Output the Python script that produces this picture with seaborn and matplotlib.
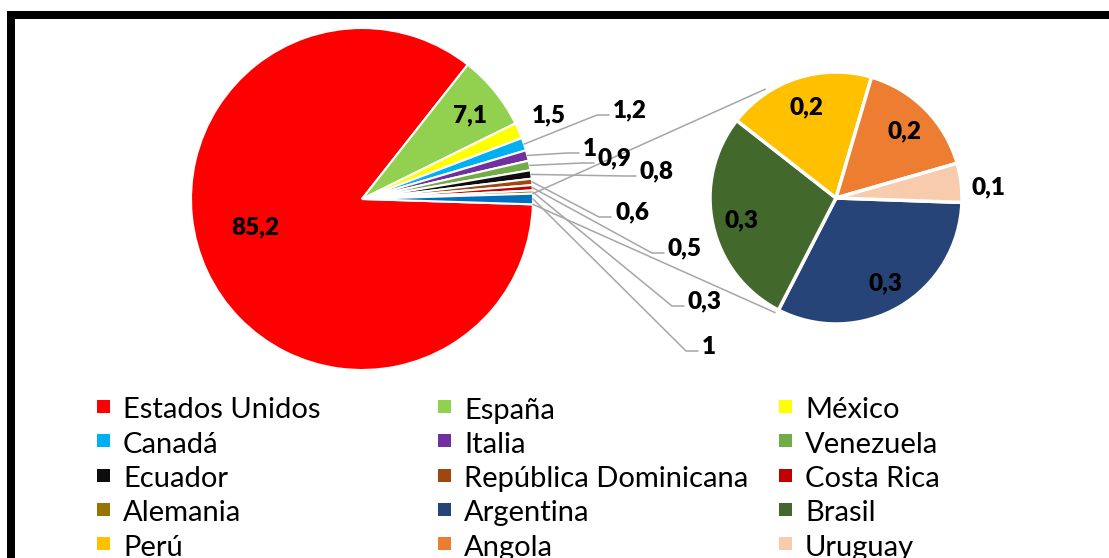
import matplotlib
matplotlib.use("Agg")
import numpy as np
import seaborn as sns
import matplotlib.pyplot as plt
from matplotlib.patches import Rectangle

# --- 1. Data ---
main_countries = ["Estados Unidos", "España", "México", "Canadá", "Italia", "Venezuela",
                  "Ecuador", "República Dominicana", "Costa Rica", "Alemania"]
main_values = [85.2, 7.1, 1.5, 1.2, 1, 0.9, 0.8, 0.6, 0.5, 0.3]
main_colors = ["#FF0000", "#92D050", "#FFFF00", "#00B0F0", "#7030A0", "#70AD47",
               "#0D0D0D", "#9E480E", "#C00000", "#997300"]

other_countries = ["Argentina", "Brasil", "Perú", "Angola", "Uruguay"]
other_values = [0.32, 0.28, 0.19, 0.16, 0.05]
other_colors = ["#264478", "#43682B", "#FFC000", "#ED7D31", "#F8CBAD"]
other_slice_color = "#0070C0"


def fmt(v):
    return f"{v:.1f}".rstrip("0").rstrip(".").replace(".", ",")


# --- 2. Figure in pixel coordinates ---
W, H = 1109, 558
sns.set_style("white")
plt.rcParams["font.family"] = ["Lato", "DejaVu Sans"]
fig = plt.figure(figsize=(W / 100, H / 100), dpi=100)
ax = fig.add_axes([0, 0, 1, 1])

LABEL_SIZE = 17.5
LEGEND_SIZE = 21
GREY = "#A6A6A6"


def put(x, yc, s, size, ha="center", weight="heavy"):
    # yc is the visual middle of the digits / capitals (pixels from top)
    base = yc + 0.36 * size * 100 / 72
    ax.text(x, H - base, s, fontsize=size, ha=ha, va="baseline", fontweight=weight, color="black")


# --- 3. Main pie ---
main_all = main_values + [sum(other_values)]
main_cx, main_cy, main_r = 362, H - 199, 171
wedges, _ = ax.pie(main_all, colors=main_colors + [other_slice_color],
                   startangle=-180 * main_all[-1] / sum(main_all), counterclock=False,
                   radius=main_r, center=(main_cx, main_cy),
                   wedgeprops=dict(edgecolor="white", linewidth=1.5))

# inside labels (centre, px from top-left)
put(255, 226, fmt(main_values[0]), LABEL_SIZE)
put(470, 114, fmt(main_values[1]), LABEL_SIZE)
put(532, 114, fmt(main_values[2]), LABEL_SIZE, ha="left")

# outside labels with leader lines: (left x, middle y) in px
leader_pos = [(613, 109), (583, 147), (598, 157), (640, 170), (615, 211),
              (668, 247), (688, 300), (702, 345)]
for w, v, (lx, ly) in zip(wedges[3:], main_all[3:], leader_pos):
    mid = np.deg2rad((w.theta1 + w.theta2) / 2)
    sx, sy = main_cx + main_r * np.cos(mid), main_cy + main_r * np.sin(mid)
    ex, ey = lx - 4, H - (ly + 6)
    ax.plot([sx, ex - 12, ex], [sy, ey, ey], color=GREY, lw=1.1, zorder=1)
    put(lx, ly, fmt(v), LABEL_SIZE, ha="left")

# --- 4. Secondary pie ---
sec_cx, sec_cy, sec_r = 836, H - 198, 126
sec_wedges, _ = ax.pie(other_values, colors=other_colors, startangle=-2, counterclock=False,
                       radius=sec_r, center=(sec_cx, sec_cy),
                       wedgeprops=dict(edgecolor="white", linewidth=2.5))
for w, v in zip(sec_wedges[:-1], other_values[:-1]):
    mid = np.deg2rad((w.theta1 + w.theta2) / 2)
    x = sec_cx + 0.77 * sec_r * np.cos(mid)
    y = H - (sec_cy + 0.77 * sec_r * np.sin(mid))
    put(x, y, fmt(v), LABEL_SIZE)
put(988, 186, fmt(other_values[-1]), LABEL_SIZE)

# connector lines between the "other" slice and the secondary pie
ow = wedges[-1]
for a_main, a_sec in [(ow.theta2, 123), (ow.theta1, 242)]:
    a1, a2 = np.deg2rad(a_main), np.deg2rad(a_sec)
    ax.plot([main_cx + main_r * np.cos(a1), sec_cx + 1.03 * sec_r * np.cos(a2)],
            [main_cy + main_r * np.sin(a1), sec_cy + 1.03 * sec_r * np.sin(a2)],
            color=GREY, lw=1.1, zorder=1)

# --- 5. Legend (3 columns, row-wise like Excel) ---
legend_names = main_countries + other_countries
legend_colors = main_colors + other_colors
col_x = [123, 464, 805]
for i, (name, c) in enumerate(zip(legend_names, legend_colors)):
    tx, ty = col_x[i % 3], 408 + (i // 3) * 34.3
    ax.scatter(tx - 20, H - (ty - 2), marker="s", s=(13 * 0.72) ** 2, color=c, linewidths=0)
    put(tx, ty, name, LEGEND_SIZE, ha="left", weight="normal")

# --- 6. Chart frame ---
ax.add_patch(Rectangle((11, H - 561), 1300, 546, fill=False, edgecolor="black",
                       linewidth=8 * 0.72, clip_on=False, zorder=10))

ax.set_xlim(0, W)
ax.set_ylim(0, H)
ax.set_aspect("auto")
ax.axis("off")
fig.savefig("out.png", dpi=100, facecolor="white")
